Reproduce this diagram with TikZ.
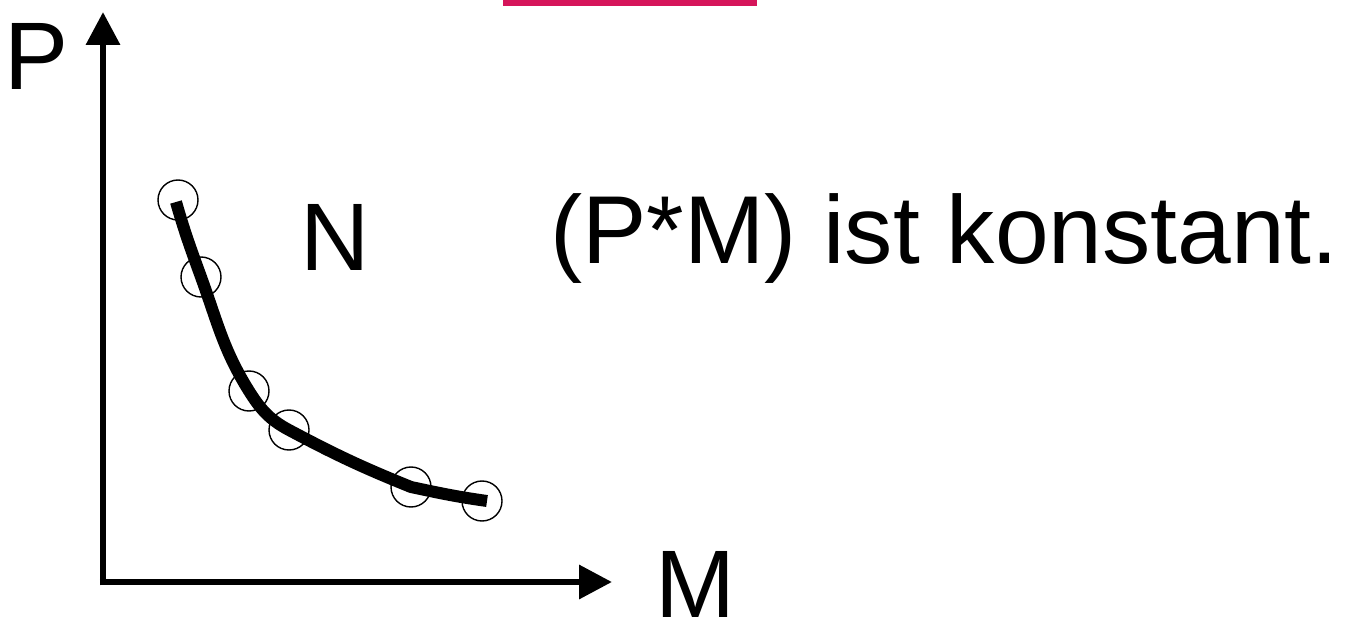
\documentclass[tikz,border=0pt]{standalone}
\usepackage{fontspec}
\setmainfont{Liberation Sans}
\usetikzlibrary{arrows.meta}
\definecolor{barpink}{RGB}{213,21,90}
\tikzset{
  axis/.style={line width=6.5pt, -{Triangle[width=33pt,length=33pt]}},
  lbl/.style={inner sep=0pt, anchor=base, font=\fontsize{96}{110}\selectfont},
  marker/.style={circle, draw, line width=1.4pt, minimum size=40pt, inner sep=0pt},
  curve/.style={line width=12pt, line cap=butt, line join=round}
}
\begin{document}
\begin{tikzpicture}[x=1pt,y=-1pt]
\useasboundingbox (0,0) rectangle (1349,617);
\fill[barpink] (503,0) rectangle (757,6);
% axes
\coordinate (o) at (103,582);
\coordinate (ytip) at (103,12);
\coordinate (xtip) at (612,582);
\draw[axis] ([yshift=-3.25pt]o) -- (ytip);
\draw[axis] ([xshift=-3.25pt]o) -- (xtip);
% labels
\node[lbl] (P) at (37,90) {P};
\node[lbl] (M) at (695,617) {M};
\node[lbl] (N) at (335,271) {N};
\node[lbl, anchor=base west, font=\fontsize{96.5}{110}\selectfont] (txt) at (550,264) {(P*M) ist konstant.};
% markers
\node[marker] (c1) at (178,200) {};
\node[marker] (c2) at (201,277) {};
\node[marker] (c3) at (249,391) {};
\node[marker] (c4) at (289,430) {};
\node[marker] (c5) at (411,487) {};
\node[marker] (c6) at (482,501) {};
% curve
\draw[curve] ([xshift=-2pt,yshift=-2pt]c1.center) to[out=-74,in=110] (c2.center)
  to[out=-70,in=122] (c3.center)
  to[out=-58,in=152] (c4.center)
  to[out=-28,in=158] (c5.center)
  to[out=-12,in=172] ([xshift=5pt]c6.center);
\end{tikzpicture}
\end{document}
